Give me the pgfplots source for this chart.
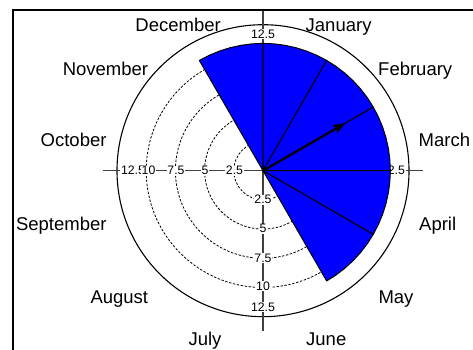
\documentclass[border=0pt]{standalone}
\usepackage{fontspec}
\setmainfont{Liberation Sans}
\usepackage{pgfplots}
\pgfplotsset{compat=1.18}
\usetikzlibrary{arrows.meta}

\newcommand\monthfont{\fontsize{18.5}{20}\selectfont}
\newcommand\tickfont{\fontsize{12.3}{13}\selectfont}

\begin{document}
\begin{tikzpicture}[x=1pt,y=1pt,
  rlab/.style={font=\tickfont, fill=white, inner sep=0.8pt},
  mlab/.style={font=\monthfont, inner sep=0pt}]

% outer frame
\draw[line width=1.7pt] (13,-30) -- (13,339) -- (520,339);

\begin{axis}[
  at={(263pt,178.3pt)}, anchor=center,
  scale only axis, width=327.04pt, height=327.04pt,
  xmin=-14, xmax=14, ymin=-14, ymax=14,
  hide axis, clip=false]

% radial grid circles
\draw[black, line width=0.8pt, dash pattern=on 2.4pt off 1.6pt] (axis cs:0,0) circle[radius=2.5];
\draw[black, line width=0.8pt, dash pattern=on 2.4pt off 1.6pt] (axis cs:0,0) circle[radius=5];
\draw[black, line width=0.8pt, dash pattern=on 2.4pt off 1.6pt] (axis cs:0,0) circle[radius=7.5];
\draw[black, line width=0.8pt, dash pattern=on 2.4pt off 1.6pt] (axis cs:0,0) circle[radius=10];
\draw[black, line width=1.1pt] (axis cs:0,0) circle[radius=12.5];

% radial axes
\draw[black!75, line width=1.2pt] (axis cs:-13.7,0) -- (axis cs:13.7,0);
\draw[black!75, line width=1.2pt] (axis cs:0,-13.7) -- (axis cs:0,13.7);

% radial labels, left
\node[rlab] at (axis cs:-11.13,0) {12.5};
\node[rlab] at (axis cs:-9.80,0) {10};
\node[rlab] at (axis cs:-7.45,0) {7.5};
\node[rlab] at (axis cs:-4.97,0) {5};
\node[rlab] at (axis cs:-2.44,0) {2.5};
% radial labels, down
\node[rlab] at (axis cs:0,-11.69) {12.5};
\node[rlab] at (axis cs:0,-9.89) {10};
\node[rlab] at (axis cs:0,-7.49) {7.5};
\node[rlab] at (axis cs:0,-4.97) {5};
\node[rlab] at (axis cs:0,-2.48) {2.5};
% outermost labels on the right and up (inner ones lie under the sectors)
\node[rlab] at (axis cs:11.13,0) {12.5};
\node[rlab] at (axis cs:0,11.69) {12.5};

% monthly sectors (angle in degrees, value)
\pgfplotsset{sector/.style={fill=blue, draw=black, line width=1pt, line join=round, data cs=polar}}
% December
\addplot[sector] coordinates {(0,0) (120,10.9) (115,10.9) (110,10.9) (105,10.9) (100,10.9) (95,10.9) (90,10.9)} -- cycle;
% January
\addplot[sector] coordinates {(0,0) (90,10.9) (85,10.9) (80,10.9) (75,10.9) (70,10.9) (65,10.9) (60,10.9)} -- cycle;
% February
\addplot[sector] coordinates {(0,0) (60,10.9) (55,10.9) (50,10.9) (45,10.9) (40,10.9) (35,10.9) (30,10.9)} -- cycle;
% March
\addplot[sector] coordinates {(0,0) (30,10.9) (25,10.9) (20,10.9) (15,10.9) (10,10.9) (5,10.9) (0,10.9)} -- cycle;
% April
\addplot[sector] coordinates {(0,0) (0,10.9) (-5,10.9) (-10,10.9) (-15,10.9) (-20,10.9) (-25,10.9) (-30,10.9)} -- cycle;
% May
\addplot[sector] coordinates {(0,0) (-30,10.9) (-35,10.9) (-40,10.9) (-45,10.9) (-50,10.9) (-55,10.9) (-60,10.9)} -- cycle;

% mean direction
\addplot[data cs=polar, draw=black, line width=2.2pt,
  arrows={-Stealth[length=12pt,width=9.5pt,inset=2pt,line width=0.6pt,fill=black]}]
  coordinates {(0,0) (30,8.12)};
\end{axis}

% month names
\node[mlab, anchor=base east] at (221,317) {December};
\node[mlab, anchor=base west] at (305.5,317) {January};
\node[mlab, anchor=base east] at (148.3,274) {November};
\node[mlab, anchor=base west] at (378,274) {February};
\node[mlab, anchor=base east] at (106.7,203) {October};
\node[mlab, anchor=base west] at (418.5,203) {March};
\node[mlab, anchor=base east] at (106.7,119) {September};
\node[mlab, anchor=base west] at (419,119) {April};
\node[mlab, anchor=base east] at (148.3,46) {August};
\node[mlab, anchor=base west] at (378.3,46) {May};
\node[mlab, anchor=base east] at (221.7,4) {July};
\node[mlab, anchor=base west] at (306,4) {June};

\pgfresetboundingbox
\path[use as bounding box] (0,0) rectangle (473,349);
\end{tikzpicture}
\end{document}
